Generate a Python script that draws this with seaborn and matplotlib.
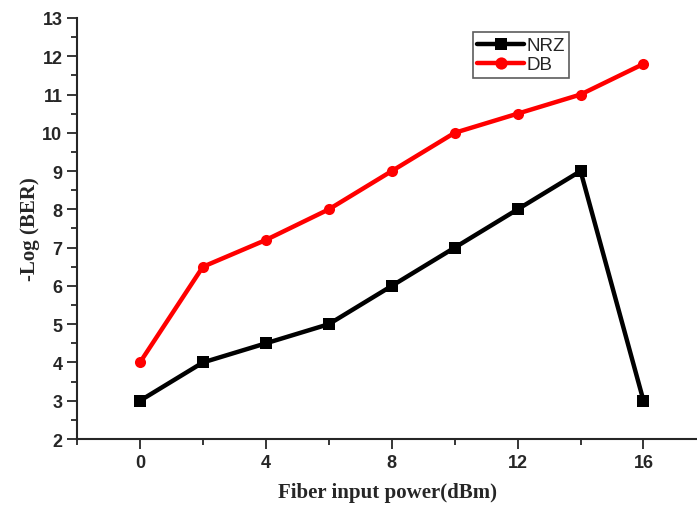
import matplotlib
matplotlib.use("Agg")
import matplotlib.pyplot as plt
from matplotlib.ticker import MultipleLocator
import seaborn as sns
import pandas as pd

power_dbm = [0, 2, 4, 6, 8, 10, 12, 14, 16]
nrz_values = [3, 4, 4.5, 5, 6, 7, 8, 9, 3]
db_values = [4, 6.5, 7.2, 8, 9, 10, 10.5, 11, 11.8]

df = pd.concat([
    pd.DataFrame({"power": power_dbm, "ber": nrz_values, "scheme": "NRZ"}),
    pd.DataFrame({"power": power_dbm, "ber": db_values, "scheme": "DB"}),
])

sns.set_style("ticks")
plt.rcParams["font.family"] = ["Liberation Sans", "DejaVu Sans"]

fig = plt.figure(figsize=(6.97, 5.06), dpi=100)
ax = fig.add_axes([0.1105, 0.1304, 0.8895, 0.8321])

sns.lineplot(data=df, x="power", y="ber", hue="scheme", style="scheme",
             palette={"NRZ": "black", "DB": "#ff0000"},
             markers={"NRZ": "s", "DB": "o"}, dashes=False,
             markersize=8, linewidth=3.2, markeredgewidth=0, ax=ax)

ax.set_xlim(-2, 17.7)
ax.set_ylim(2, 13)
ax.xaxis.set_major_locator(MultipleLocator(4))
ax.xaxis.set_minor_locator(MultipleLocator(2))
ax.yaxis.set_major_locator(MultipleLocator(1))
ax.yaxis.set_minor_locator(MultipleLocator(0.5))
ax.tick_params(which="major", direction="out", length=7, width=1.3, labelsize=13)
ax.tick_params(which="minor", direction="out", length=4, width=1.3)
for lab in ax.get_xticklabels() + ax.get_yticklabels():
    lab.set_fontweight("bold")

sns.despine(ax=ax)
for s in ("left", "bottom"):
    ax.spines[s].set_linewidth(1.5)

ax.set_xlabel("Fiber input power(dBm)", family="Liberation Serif",
              fontweight="bold", fontsize=15, labelpad=8)
ax.set_ylabel("-Log (BER)", family="Liberation Serif",
              fontweight="bold", fontsize=15, labelpad=2)

leg = ax.legend(loc="upper left", bbox_to_anchor=(0.638, 0.966), fontsize=13.5,
                frameon=True, fancybox=False, edgecolor="#333333",
                handlelength=2.5, handletextpad=0.1, borderpad=0.25,
                labelspacing=0.1, borderaxespad=0, markerscale=1.1)
leg.get_frame().set_linewidth(1.2)

fig.savefig("out.png", dpi=100)
